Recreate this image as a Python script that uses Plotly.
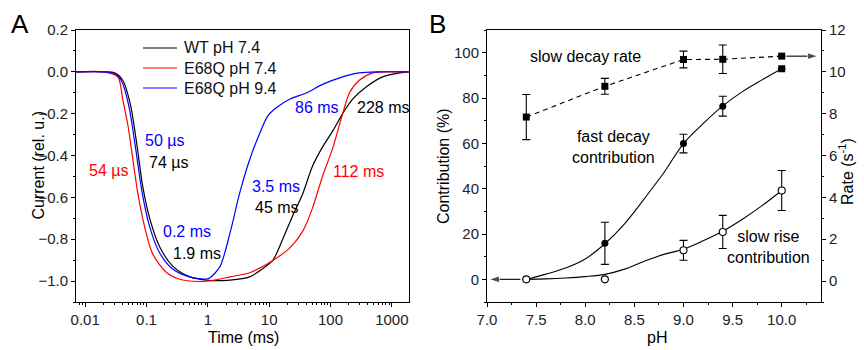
import plotly.graph_objects as go

# ---------------- Panel A data (time in ms, current rel. u.) ----------------
wt_t = [0.007, 0.02, 0.03, 0.041, 0.054, 0.069, 0.087, 0.115, 0.166, 0.27, 0.51, 0.95,
        2.3, 4.8, 7.9, 11.5, 16.6, 24, 35.5, 51, 74, 110, 165, 229, 390, 710, 1350, 2000]
wt_y = [0, 0, -0.005, -0.04, -0.15, -0.34, -0.55, -0.71, -0.84, -0.93, -0.98, -0.995,
        -0.995, -0.98, -0.94, -0.90, -0.80, -0.69, -0.58, -0.45, -0.36, -0.28, -0.19, -0.13,
        -0.07, -0.024, -0.005, 0]

e74_t = [0.007, 0.02, 0.034, 0.041, 0.050, 0.060, 0.072, 0.093, 0.126, 0.214, 0.39, 1.0,
         2.3, 4.8, 9.1, 13.2, 22, 35.5, 51, 74, 110, 158, 204, 295, 490, 1000, 2000]
e74_y = [0, 0, -0.024, -0.134, -0.26, -0.42, -0.58, -0.74, -0.87, -0.96, -0.995, -1.0,
         -0.98, -0.96, -0.92, -0.89, -0.84, -0.76, -0.65, -0.50, -0.36, -0.20, -0.10, -0.04,
         -0.005, 0, 0]

e94_t = [0.007, 0.02, 0.03, 0.040, 0.052, 0.066, 0.084, 0.11, 0.16, 0.26, 0.5, 0.9,
         1.07, 1.58, 2.3, 3.3, 4.8, 7.1, 9.5, 13.2, 22, 41, 74, 158, 295, 600, 2000]
e94_y = [0, 0, -0.008, -0.05, -0.17, -0.36, -0.57, -0.73, -0.86, -0.94, -0.98, -0.99,
         -0.985, -0.93, -0.77, -0.58, -0.42, -0.29, -0.21, -0.17, -0.13, -0.10, -0.06,
         -0.024, -0.005, 0, 0]

series_names = ["WT pH 7.4", "E68Q pH 7.4", "E68Q pH 9.4"]
series_colors = ["#000000", "#ff0000", "#0000ff"]

time_ticks = [0.01, 0.1, 1, 10, 100, 1000]
time_tick_labels = ["0.01", "0.1", "1", "10", "100", "1000"]

# ---------------- Panel B data ----------------
ph_points = [7.4, 8.2, 9.0, 9.4, 10.0]
slow_rate = [7.84, 9.31, 10.59, 10.6, 10.75]          # s^-1 (right axis)
slow_rate_err = [1.08, 0.38, 0.4, 0.68, 0.0]

fast_ph = [8.2, 9.0, 9.4, 10.0]
fast_contrib = [15.9, 59.9, 76.4, 92.9]               # %
fast_err = [9.3, 4.1, 4.4, 0.0]
fast_symbols = ["circle", "circle", "circle", "square"]

rise_contrib = [0, 0, 12.8, 20.9, 39.2]               # %
rise_err = [0, 0, 4.4, 7.3, 8.8]

fit_ph = [7.4, 7.6, 7.8, 8.0, 8.2, 8.4, 8.6, 8.8, 9.0, 9.2, 9.4, 9.6, 9.8, 10.0]
fast_fit = [0, 2.3, 5, 9, 15.7, 24.5, 35.5, 47, 59.9, 68.7, 76.5, 82.8, 88, 92.9]
rise_fit = [0, 0.2, 0.6, 1.2, 2.2, 4.5, 8, 11, 13.3, 17, 21.2, 26.5, 32.5, 39.2]

# axis-pointer arrows (pH, value)
left_arrow_ph = [7.34, 7.02]
left_arrow_val = [0, 0]
right_arrow_ph = [10.05, 10.37]
right_arrow_val = [10.75, 10.75]

FONT = "Liberation Sans, Arial, Helvetica, sans-serif"
W, H = 864, 350


def px(x):
    return x / W


def py(y):
    return 1 - y / H


fig = go.Figure()

for t, y, name, col in zip([wt_t, e74_t, e94_t], [wt_y, e74_y, e94_y], series_names, series_colors):
    fig.add_trace(go.Scatter(x=t, y=y, mode="lines", name=name, showlegend=False,
                             line=dict(color=col, width=1.2, shape="spline", smoothing=0.8),
                             xaxis="x", yaxis="y"))

# Panel B fits
fig.add_trace(go.Scatter(x=fit_ph, y=fast_fit, mode="lines", showlegend=False,
                         line=dict(color="black", width=1.1, shape="spline"),
                         xaxis="x2", yaxis="y2"))
fig.add_trace(go.Scatter(x=fit_ph, y=rise_fit, mode="lines", showlegend=False,
                         line=dict(color="black", width=1.1, shape="spline"),
                         xaxis="x2", yaxis="y2"))
# Slow decay rate (right axis)
fig.add_trace(go.Scatter(x=ph_points, y=slow_rate, mode="lines+markers", showlegend=False,
                         line=dict(color="black", width=1.1, dash="5px,4px"),
                         marker=dict(symbol="square", size=7, color="black"),
                         error_y=dict(type="data", array=slow_rate_err, color="black",
                                      thickness=1.1, width=4),
                         xaxis="x2", yaxis="y3"))
# Fast decay contribution points
fig.add_trace(go.Scatter(x=fast_ph, y=fast_contrib, mode="markers", showlegend=False,
                         marker=dict(symbol=fast_symbols, size=7, color="black"),
                         error_y=dict(type="data", array=fast_err, color="black",
                                      thickness=1.1, width=4),
                         xaxis="x2", yaxis="y2"))
# Slow rise contribution points
fig.add_trace(go.Scatter(x=ph_points, y=rise_contrib, mode="markers", showlegend=False,
                         marker=dict(symbol="circle", size=7, color="white",
                                     line=dict(color="black", width=1.1)),
                         error_y=dict(type="data", array=rise_err, color="black",
                                      thickness=1.1, width=4),
                         xaxis="x2", yaxis="y2"))
# Arrows pointing to the relevant axis
for ax_x, ax_y, yax in [(left_arrow_ph, left_arrow_val, "y2"),
                        (right_arrow_ph, right_arrow_val, "y3")]:
    fig.add_trace(go.Scatter(x=ax_x, y=ax_y, mode="lines+markers", showlegend=False,
                             line=dict(color="black", width=1.1),
                             marker=dict(symbol="arrow", angleref="previous", size=[0, 11],
                                         color="black"),
                             xaxis="x2", yaxis=yax, cliponaxis=False))

minor_log = [m * 10 ** e for e in range(-3, 4) for m in range(2, 10)]

axis_common = dict(showline=True, linecolor="black", linewidth=1, ticks="outside",
                   ticklen=4, tickcolor="black", showgrid=False, zeroline=False,
                   automargin=False,
                   tickfont=dict(size=15, color="#222", family=FONT))

fig.update_layout(
    template="none",
    width=W, height=H, autosize=False,
    margin=dict(l=0, r=0, t=0, b=0, pad=0),
    paper_bgcolor="white", plot_bgcolor="white",
    font=dict(family=FONT, size=16, color="black"),
    showlegend=False,
    xaxis=dict(type="log", domain=[76 / W, 409 / W], range=[-2.15, 3.28], anchor="y",
               tickvals=time_ticks, ticktext=time_tick_labels, mirror=True,
               minor=dict(tickvals=minor_log, ticks="outside", ticklen=2, tickcolor="black",
                          showgrid=False),
               **axis_common),
    yaxis=dict(domain=[py(302), py(30)], range=[-1.1, 0.2], anchor="x", dtick=0.2,
               tick0=0, tickformat=".1f", mirror=True,
               minor=dict(dtick=0.1, ticks="outside", ticklen=2, tickcolor="black",
                          showgrid=False),
               **axis_common),
    xaxis2=dict(domain=[487 / W, 821 / W], range=[7.0, 10.4], anchor="y2", dtick=0.5,
                tick0=7, tickformat=".1f", mirror=True,
                minor=dict(dtick=0.25, ticks="outside", ticklen=2, tickcolor="black",
                           showgrid=False),
                **axis_common),
    yaxis2=dict(domain=[py(302), py(30)], range=[-10, 110], anchor="x2", dtick=20, tick0=0,
                minor=dict(dtick=10, ticks="outside", ticklen=2, tickcolor="black",
                           showgrid=False),
                **axis_common),
    yaxis3=dict(range=[-1, 12], anchor="x2", overlaying="y2", side="right", dtick=2, tick0=0,
                minor=dict(dtick=1, ticks="outside", ticklen=2, tickcolor="black",
                           showgrid=False),
                **axis_common),
)

# Manual legend for panel A (sample lines + labels)
for i, (name, col) in enumerate(zip(series_names, series_colors)):
    yrow = 48 + 20 * i
    fig.add_shape(type="line", xref="paper", yref="paper", x0=px(143), x1=px(177),
                  y0=py(yrow), y1=py(yrow), line=dict(color=col, width=1.2))
    fig.add_annotation(text=name, x=px(182), y=py(yrow), xref="paper", yref="paper",
                       showarrow=False, xanchor="left", yanchor="middle",
                       font=dict(size=16, color="#111", family=FONT))

annots = [
    # panel letters
    ("A", 20, 24, "black", 26),
    ("B", 437, 24, "black", 26),
    # Panel A labels
    ("50 µs", 164, 140, "#0000ff", 16),
    ("74 µs", 168, 162, "#000000", 16),
    ("54 µs", 108, 170, "#ff0000", 16),
    ("86 ms", 317, 108, "#0000ff", 16),
    ("228 ms", 383, 108, "#000000", 16),
    ("112 ms", 358, 171, "#ff0000", 16),
    ("3.5 ms", 276, 186, "#0000ff", 16),
    ("45 ms", 277, 207, "#000000", 16),
    ("0.2 ms", 187, 232, "#0000ff", 16),
    ("1.9 ms", 197, 253, "#000000", 16),
    ("Time (ms)", 243, 337, "black", 16),
    # Panel B labels
    ("slow decay rate", 585, 57, "black", 16),
    ("fast decay<br>contribution", 613, 147, "black", 16),
    ("slow rise<br>contribution", 768, 247, "black", 16),
    ("pH", 657, 337, "black", 16),
]
for text, x, y, col, size in annots:
    fig.add_annotation(text=text, x=px(x), y=py(y), xref="paper", yref="paper",
                       showarrow=False, xanchor="center", yanchor="middle",
                       font=dict(size=size, color=col, family=FONT))

fig.add_annotation(text="Current (rel. u.)", x=px(27), y=py(166), xref="paper", yref="paper",
                   showarrow=False, textangle=-90, font=dict(size=16, family=FONT))
fig.add_annotation(text="Contribution (%)", x=px(443), y=py(166), xref="paper", yref="paper",
                   showarrow=False, textangle=-90, font=dict(size=16, family=FONT))
fig.add_annotation(text="Rate (s<sup>-1</sup>)", x=px(858), y=py(172), xref="paper",
                   yref="paper", showarrow=False, textangle=-90, font=dict(size=16, family=FONT))

fig.write_html("out.html",
               config={"displayModeBar": False},
               post_script="document.body.style.margin='0px';"
                           "document.body.style.overflow='hidden';")
